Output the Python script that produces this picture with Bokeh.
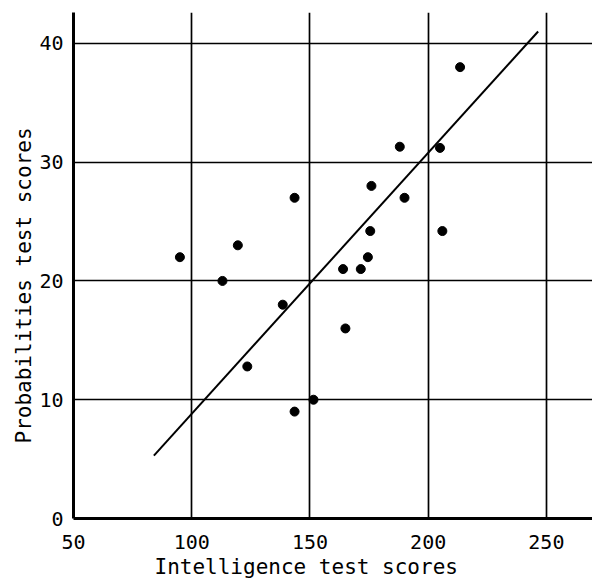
from bokeh.plotting import figure
from bokeh.models import FixedTicker, Range1d, Title
from bokeh.embed import file_html
from bokeh.resources import INLINE

# Data
intelligence = [95, 113, 119.5, 123.5, 138.5, 143.5, 143.5, 151.5, 164, 165,
                171.5, 174.5, 175.5, 176, 188, 190, 205, 206, 213.5]
probabilities = [22, 20, 23, 12.8, 18, 27, 9, 10, 21, 16,
                 21, 22, 24.2, 28, 31.3, 27, 31.2, 24.2, 38]
fit_x = [84, 246.5]
fit_y = [5.3, 41]
x_ticks = [50, 100, 150, 200, 250]
y_ticks = [0, 10, 20, 30, 40]
x_title = "Intelligence test scores"
y_title = "Probabilities test scores"

FONT = "DejaVu Sans Mono"

p = figure(width=592, height=586, output_backend="svg", toolbar_location=None,
           x_range=Range1d(50, 269.5), y_range=Range1d(0, 42.6),
           min_border_left=73, min_border_right=0, min_border_top=12,
           min_border_bottom=68)
p.outline_line_color = None
p.background_fill_color = "white"
p.border_fill_color = "white"

for ax, ticks in ((p.xaxis[0], x_ticks), (p.yaxis[0], y_ticks)):
    ax.ticker = FixedTicker(ticks=ticks)
    ax.axis_line_color = "black"
    ax.axis_line_width = 3
    ax.major_tick_out = 0
    ax.major_tick_in = 0
    ax.minor_tick_out = 0
    ax.minor_tick_in = 0
    ax.major_label_text_font = FONT
    ax.major_label_text_font_size = "20px"
    ax.major_label_text_color = "black"

p.xaxis[0].major_label_standoff = 16
p.yaxis[0].major_label_standoff = 10

for g in (p.xgrid[0], p.ygrid[0]):
    g.grid_line_color = "black"
    g.grid_line_width = 1.7
p.xgrid[0].ticker = FixedTicker(ticks=x_ticks[1:])
p.ygrid[0].ticker = FixedTicker(ticks=y_ticks[1:])

p.line(fit_x, fit_y, line_color="black", line_width=2)
p.scatter(intelligence, probabilities, size=9, fill_color="black",
          line_color="black")

# Axis titles, placed like the reference (centred on the 50-250 / 0-40 spans)
p.add_layout(Title(text=x_title, text_font=FONT, text_font_size="21px",
                   text_color="black", text_font_style="normal",
                   align="left", offset=81, standoff=2), "below")
p.add_layout(Title(text=y_title, text_font=FONT, text_font_size="21px",
                   text_color="black", text_font_style="normal",
                   align="left", offset=75, standoff=2), "left")

open("out.html", "w").write(file_html(p, INLINE))
